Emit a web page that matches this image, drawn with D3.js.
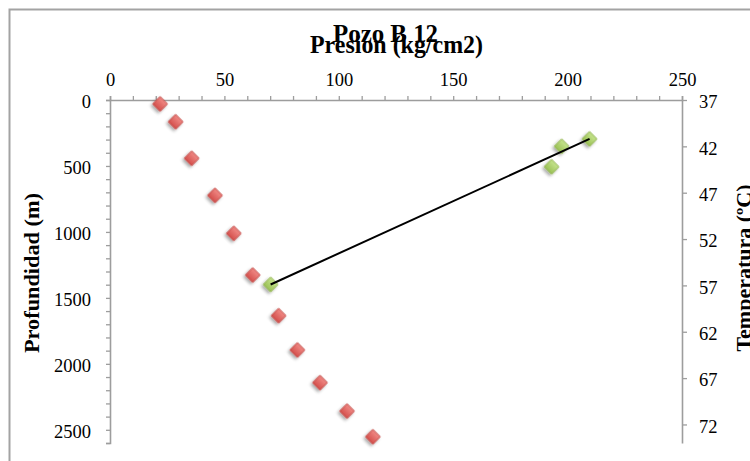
<!DOCTYPE html>
<html>
<head>
<meta charset="utf-8">
<script src="https://cdn.jsdelivr.net/npm/d3@7"></script>
<style>
  html, body { margin: 0; padding: 0; background: #fff; }
  svg { display: block; }
  text { font-family: "Liberation Serif", "DejaVu Serif", serif; fill: #000; }
</style>
</head>
<body>
<svg id="chart" width="750" height="461"></svg>
<script>
// ---- Data ----
const chartTitle = "Pozo B 12";
const xAxisTitle = "Presion (kg/cm2)";
const yLeftTitle = "Profundidad (m)";
const yRightTitle = "Temperatura (ºC)";

// Pressure (kg/cm2) vs depth (m) — red series
const pressure = [21.9, 28.7, 35.7, 45.9, 54.1, 62.4, 73.7, 81.9, 91.8, 103.6, 114.9];
const depth    = [30, 165, 442, 723, 1011, 1327, 1635, 1895, 2143, 2358, 2553];

// Green series on temperature axis
const greenX    = [70.2, 193.0, 197.4, 209.6];
const greenTemp = [56.9, 44.2, 42.0, 41.2];

// Black line
const lineX    = [70.2, 209.6];
const lineTemp = [56.9, 41.2];

const xTicks      = [0, 50, 100, 150, 200, 250];
const depthTicks  = [0, 500, 1000, 1500, 2000, 2500];
const tempTicks   = [37, 42, 47, 52, 57, 62, 67, 72];

// ---- Layout ----
const svg = d3.select("#chart");
const L = 110, R = 682, T = 100, B = 443;
const axisColor = "#9d9d9d";

const x = d3.scaleLinear().domain([0, 250]).range([L, R]);
const yD = d3.scaleLinear().domain([0, 2600]).range([T, B]);
const yT = d3.scaleLinear().domain([37, 74]).range([T, B]);

// defs: gradients and shadow
const defs = svg.append("defs");
const f = defs.append("filter").attr("id", "shadow")
  .attr("x", "-50%").attr("y", "-50%").attr("width", "200%").attr("height", "200%");
f.append("feDropShadow").attr("dx", 0).attr("dy", 2.5).attr("stdDeviation", 1.4)
  .attr("flood-color", "#000").attr("flood-opacity", 0.35);

function grad(id, c1, c2) {
  const g = defs.append("linearGradient").attr("id", id)
    .attr("x1", 0).attr("y1", 0).attr("x2", 0).attr("y2", 1);
  g.append("stop").attr("offset", "0%").attr("stop-color", c1);
  g.append("stop").attr("offset", "100%").attr("stop-color", c2);
}
grad("gRed", "#f08a86", "#d4504c");
grad("gGreen", "#c6e48e", "#9bc156");

// outer chart border
svg.append("path")
  .attr("d", "M9.5,470 L9.5,9.5 L760,9.5")
  .attr("fill", "none").attr("stroke", "#a3a3a3").attr("stroke-width", 2);

// ---- Axes ----
const xAxis = d3.axisTop(x)
  .tickValues(d3.range(0, 251, 10))
  .tickFormat(d => xTicks.includes(d) ? d : "")
  .tickSize(4).tickSizeOuter(4).tickPadding(10);
const gx = svg.append("g").attr("transform", `translate(0,${T})`).call(xAxis);

const yAxisL = d3.axisLeft(yD)
  .tickValues(d3.range(0, 2601, 100))
  .tickFormat(d => depthTicks.includes(d) ? d : "")
  .tickSize(4).tickSizeOuter(4).tickPadding(15);
const gyl = svg.append("g").attr("transform", `translate(${L},0)`).call(yAxisL);

const yAxisR = d3.axisRight(yT)
  .tickValues(tempTicks)
  .tickSize(5).tickSizeOuter(0).tickPadding(12);
const gyr = svg.append("g").attr("transform", `translate(${R},0)`).call(yAxisR);

[gx, gyl, gyr].forEach(g => {
  g.select(".domain").attr("stroke", axisColor).attr("stroke-width", 1.6);
  g.selectAll(".tick line").attr("stroke", axisColor).attr("stroke-width", 1.3);
  g.selectAll(".tick text")
    .style("font-family", '"Liberation Serif", serif')
    .style("font-size", "18.5px").attr("fill", "#000");
});
gyl.selectAll(".tick text").attr("dy", "0.42em");
gyr.selectAll(".tick text").attr("dy", "0.42em");

// ---- Titles ----
svg.append("text")
  .attr("x", 385.5).attr("y", 41.5).attr("text-anchor", "middle")
  .attr("textLength", 105).attr("lengthAdjust", "spacingAndGlyphs")
  .style("font-size", "26px").style("font-weight", "bold")
  .text(chartTitle);
svg.append("text")
  .attr("x", 396.5).attr("y", 52.5).attr("text-anchor", "middle")
  .attr("textLength", 173).attr("lengthAdjust", "spacingAndGlyphs")
  .style("font-size", "26px").style("font-weight", "bold")
  .text(xAxisTitle);

svg.append("text")
  .attr("transform", "translate(38.5,273) rotate(-90)")
  .attr("text-anchor", "middle")
  .attr("textLength", 160).attr("lengthAdjust", "spacingAndGlyphs")
  .style("font-size", "22px").style("font-weight", "bold")
  .text(yLeftTitle);
svg.append("text")
  .attr("transform", "translate(750.5,268) rotate(-90)")
  .attr("text-anchor", "middle")
  .style("font-size", "22px").style("font-weight", "bold")
  .text(yRightTitle);

// ---- Marks ----
const diamond = d3.symbol().type(d3.symbolSquare).size(108)();

svg.append("g").selectAll("path")
  .data(pressure.map((p, i) => [p, depth[i]]))
  .join("path")
  .attr("d", diamond)
  .attr("transform", d => `translate(${x(d[0])},${yD(d[1])}) rotate(45)`)
  .attr("fill", "url(#gRed)").attr("stroke", "#c24a46").attr("stroke-width", 0.8)
  .attr("filter", "url(#shadow)");

svg.append("g").selectAll("path")
  .data(greenX.map((p, i) => [p, greenTemp[i]]))
  .join("path")
  .attr("d", diamond)
  .attr("transform", d => `translate(${x(d[0])},${yT(d[1])}) rotate(45)`)
  .attr("fill", "url(#gGreen)").attr("stroke", "#8fb24e").attr("stroke-width", 0.8)
  .attr("filter", "url(#shadow)");

svg.append("path")
  .datum(lineX.map((p, i) => [p, lineTemp[i]]))
  .attr("d", d3.line().x(d => x(d[0])).y(d => yT(d[1])))
  .attr("fill", "none").attr("stroke", "#000").attr("stroke-width", 2);
</script>
</body>
</html>
